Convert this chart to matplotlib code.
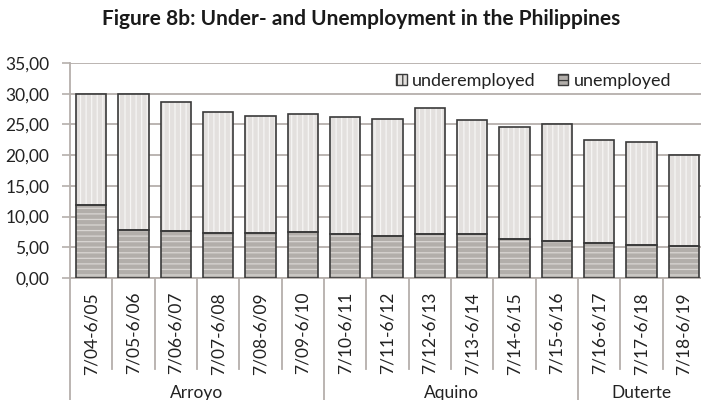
import matplotlib
matplotlib.use("Agg")
import matplotlib.pyplot as plt
from matplotlib.patches import Patch
from matplotlib.lines import Line2D
from matplotlib.ticker import FuncFormatter
import matplotlib.transforms as mtransforms

# ---- data ----
periods = ["7/04-6/05", "7/05-6/06", "7/06-6/07", "7/07-6/08", "7/08-6/09",
           "7/09-6/10", "7/10-6/11", "7/11-6/12", "7/12-6/13", "7/13-6/14",
           "7/14-6/15", "7/15-6/16", "7/16-6/17", "7/17-6/18", "7/18-6/19"]
unemployed = [11.9, 7.8, 7.6, 7.4, 7.4, 7.5, 7.2, 6.9, 7.2, 7.1, 6.4, 6.0, 5.7, 5.3, 5.2]
underemployed = [18.1, 22.2, 21.1, 19.7, 18.9, 19.2, 19.0, 19.0, 20.4, 18.7, 18.1, 19.1, 16.8, 16.9, 14.9]
groups = ["Arroyo", "Aquino", "Duterte"]
group_sizes = [6, 6, 3]
yticks = [0, 5, 10, 15, 20, 25, 30, 35]
title = "Figure 8b: Under- and Unemployment in the Philippines"

plt.rcParams['font.family'] = ['Lato', 'DejaVu Sans']
plt.rcParams['hatch.linewidth'] = 0.9

W, H = 701, 400
fig = plt.figure(figsize=(W / 100, H / 100), dpi=100)
fig.patch.set_facecolor('white')

ax_left, ax_right, ax_top, ax_bottom = 70, 705, 63, 278
ax = fig.add_axes([ax_left / W, 1 - ax_bottom / H, (ax_right - ax_left) / W, (ax_bottom - ax_top) / H])
ax.set_xlim(-0.5, len(periods) - 0.5)
ax.set_ylim(0, 35)

grid_c = '#b5afab'
ax.set_yticks(yticks)
ax.yaxis.grid(True, color=grid_c, lw=1.3, zorder=0)
ax.set_axisbelow(True)
for s in ['top', 'right']:
    ax.spines[s].set_visible(False)
ax.spines['left'].set_color(grid_c)
ax.spines['left'].set_linewidth(1.3)
ax.spines['bottom'].set_color(grid_c)
ax.spines['bottom'].set_linewidth(1.3)
ax.yaxis.set_major_formatter(FuncFormatter(lambda v, p: f"{v:.2f}".replace('.', ',')))
ax.tick_params(axis='y', length=6, width=1.2, color=grid_c, pad=9, labelsize=12.5, labelcolor='#222222')

x = list(range(len(periods)))
bw = 0.71
under_face = '#e3e0de'
under_hatch = '#f6f5f4'
unem_face = '#b2aeaa'
unem_hatch = '#d9d6d3'
edge = '#3a3a3a'

ax.bar(x, unemployed, bw, color=unem_face, edgecolor=unem_hatch, hatch='---', lw=0, zorder=2)
ax.bar(x, underemployed, bw, bottom=unemployed, color=under_face, edgecolor=under_hatch, hatch='|||', lw=0, zorder=2)
ax.bar(x, unemployed, bw, fill=False, edgecolor=edge, lw=1.2, zorder=3)
ax.bar(x, underemployed, bw, bottom=unemployed, fill=False, edgecolor=edge, lw=1.2, zorder=3)

# category labels
ax.set_xticks(x)
ax.set_xticklabels(periods, rotation=90, fontsize=12.5, color='#222222')
ax.tick_params(axis='x', length=0, pad=10)

# separators
trans = mtransforms.blended_transform_factory(ax.transData, ax.transAxes)
ah = ax_bottom - ax_top
y_sep = -(369 - ax_bottom) / ah
y_grp = -(H + 2 - ax_bottom) / ah
bounds = [i - 0.5 for i in range(len(periods) + 1)]
group_bounds = [-0.5]
acc = -0.5
for g in group_sizes:
    acc += g
    group_bounds.append(acc)
for b in bounds:
    yb = y_grp if b in group_bounds else y_sep
    ax.add_line(Line2D([b, b], [0, yb], transform=trans, color=grid_c, lw=1.3, clip_on=False))

# group labels
start = -0.5
for g, n in zip(groups, group_sizes):
    cx = start + n / 2
    ax.text(cx, -(393 - ax_bottom) / ah, g, transform=trans, ha='center', va='center',
            fontsize=12.5, color='#222222')
    start += n

# legend
handles = [Patch(facecolor=under_face, edgecolor=edge, lw=1.0, hatch='|||'),
           Patch(facecolor=unem_face, edgecolor=edge, lw=1.0, hatch='---')]
leg = fig.legend(handles, ['underemployed', 'unemployed'], ncol=2, frameon=False,
                 loc='center left', bbox_to_anchor=(396 / W, 1 - 81 / H),
                 fontsize=13, handlelength=0.6, handleheight=0.6, handletextpad=0.3,
                 columnspacing=1.2, borderpad=0, borderaxespad=0, labelcolor='#222222')

fig.text(361 / W, 1 - 19 / H, title, ha='center', va='center', fontsize=15,
         fontweight='bold', color='#1a1a1a')

fig.savefig('out.png', dpi=100, facecolor='white')
